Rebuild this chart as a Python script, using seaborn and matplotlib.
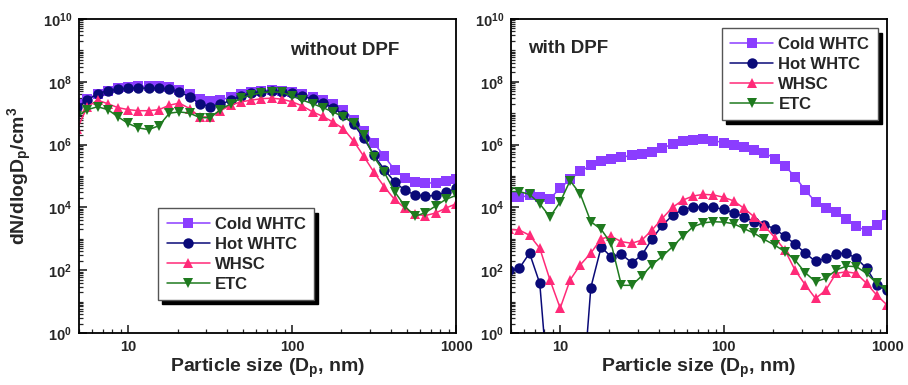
import numpy as np
import pandas as pd
import matplotlib
matplotlib.use("Agg")
import matplotlib.pyplot as plt
import matplotlib.ticker as mticker
import seaborn as sns

# ---------------- data ----------------
particle_size = [4.87, 5.62, 6.49, 7.50, 8.66, 10.0, 11.5, 13.3, 15.4, 17.8, 20.5,
                 23.7, 27.4, 31.6, 36.5, 42.2, 48.7, 56.2, 64.9, 75.0, 86.6, 100.0,
                 115.5, 133.4, 154.0, 177.8, 205.4, 237.1, 273.8, 316.2, 365.2, 421.7,
                 487.0, 562.3, 649.4, 749.9, 866.0, 1000.0]

# without DPF
wo_cold = [2.0e7, 2.8e7, 4.2e7, 5.2e7, 6.3e7, 6.9e7, 7.2e7, 7.2e7, 7.1e7, 6.6e7, 5.5e7,
           4.0e7, 2.8e7, 2.4e7, 2.6e7, 3.3e7, 4.0e7, 4.7e7, 5.2e7, 5.5e7, 5.2e7, 4.7e7,
           4.0e7, 3.3e7, 2.6e7, 2.0e7, 1.3e7, 6.3e6, 2.8e6, 1.1e6, 4.2e5, 1.6e5,
           8.5e4, 6.6e4, 6.0e4, 6.0e4, 6.8e4, 8.3e4]
wo_hot = [1.6e7, 2.6e7, 4.2e7, 5.2e7, 5.8e7, 6.2e7, 6.3e7, 6.3e7, 6.2e7, 5.8e7, 4.8e7,
          3.3e7, 2.0e7, 1.6e7, 1.9e7, 2.6e7, 3.5e7, 4.3e7, 4.8e7, 5.0e7, 4.8e7, 4.3e7,
          3.5e7, 2.8e7, 2.1e7, 1.5e7, 8.9e6, 4.5e6, 1.6e6, 4.5e5, 1.6e5, 6.6e4,
          3.5e4, 2.5e4, 2.3e4, 2.4e4, 3.0e4, 4.0e4]
wo_whsc = [3.2e6, 1.6e7, 2.6e7, 2.0e7, 1.5e7, 1.3e7, 1.2e7, 1.2e7, 1.3e7, 1.8e7, 2.1e7,
           1.4e7, 7.6e6, 7.6e6, 1.2e7, 1.8e7, 2.3e7, 2.6e7, 2.9e7, 3.0e7, 2.8e7, 2.3e7,
           1.7e7, 1.1e7, 7.9e6, 5.2e6, 3.2e6, 1.3e6, 4.2e5, 1.3e5, 4.5e4, 1.8e4,
           9.5e3, 6.0e3, 5.5e3, 6.6e3, 9.5e3, 1.3e4]
wo_etc = [7.9e6, 1.3e7, 1.6e7, 1.3e7, 7.6e6, 4.7e6, 3.4e6, 3.0e6, 4.0e6, 1.0e7, 1.1e7,
          1.0e7, 7.2e6, 7.2e6, 1.3e7, 2.0e7, 3.0e7, 3.8e7, 4.5e7, 4.8e7, 4.6e7, 3.5e7,
          2.6e7, 2.0e7, 1.5e7, 1.1e7, 7.6e6, 4.8e6, 2.0e6, 4.0e5, 1.3e5, 3.2e4,
          1.1e4, 5.2e3, 6.8e3, 1.1e4, 1.8e4, 2.4e4]

# with DPF
w_cold = [2.2e4, 2.1e4, 2.4e4, 2.1e4, 1.9e4, 4.1e4, 7.8e4, 1.4e5, 2.2e5, 3.1e5, 3.6e5,
          4.0e5, 4.5e5, 5.2e5, 6.0e5, 7.6e5, 1.05e6, 1.3e6, 1.45e6, 1.5e6, 1.35e6, 1.15e6,
          9.8e5, 8.5e5, 6.8e5, 5.5e5, 3.6e5, 2.1e5, 9.5e4, 3.5e4, 1.5e4, 9.3e3,
          7.2e3, 4.2e3, 2.5e3, 1.8e3, 2.75e3, 5.8e3]
w_hot = [100, 115, 350, 38, 0.004, 1e-4, 1e-4, 1.3e-3, 28, 540, 270,
         320, 175, 300, 1.0e3, 2.7e3, 5.6e3, 8.5e3, 1.0e4, 1.05e4, 1.0e4, 8.7e3,
         6.8e3, 5.0e3, 3.5e3, 2.8e3, 2.1e3, 1.2e3, 680, 350, 190, 240,
         330, 350, 240, 115, 34, 23]
w_whsc = [2.0e3, 1.9e3, 1.3e3, 500, 49, 6.2, 49, 150, 350, 1.0e3, 1.2e3,
          810, 720, 910, 1.9e3, 4.5e3, 1.0e4, 1.7e4, 2.3e4, 2.6e4, 2.5e4, 2.1e4,
          1.6e4, 9.3e3, 5.0e3, 2.6e3, 1.1e3, 440, 100, 34, 12.6, 23,
          79, 89, 79, 38, 16, 7.8]
w_etc = [3.2e4, 3.2e4, 2.6e4, 1.3e4, 5.0e3, 1.5e4, 7.1e4, 2.6e4, 3.5e3, 2.0e3, 710,
         33, 33, 66, 150, 280, 560, 1.2e3, 2.4e3, 3.2e3, 3.5e3, 3.4e3,
         3.0e3, 2.1e3, 1.5e3, 950, 630, 390, 210, 83, 43, 55,
         100, 135, 130, 79, 38, 23]

cycles = ["Cold WHTC", "Hot WHTC", "WHSC", "ETC"]
panel_titles = ["without DPF", "with DPF"]
y_tick_values = [1e0, 1e2, 1e4, 1e6, 1e8, 1e10]
y_tick_labels = ["$10^{0}$", "$10^{2}$", "$10^{4}$", "$10^{6}$", "$10^{8}$", "$10^{10}$"]
x_tick_values = [10, 100, 1000]
x_tick_labels = ["10", "100", "1000"]

# ---------------- style ----------------
sns.set_theme(style="ticks")
plt.rcParams["font.family"] = ["Liberation Sans", "DejaVu Sans"]
plt.rcParams["font.weight"] = "bold"
plt.rcParams["mathtext.fontset"] = "custom"
plt.rcParams["mathtext.rm"] = "Liberation Sans:bold"
plt.rcParams["mathtext.it"] = "Liberation Sans:bold:italic"
plt.rcParams["mathtext.bf"] = "Liberation Sans:bold"
plt.rcParams["mathtext.default"] = "rm"

palette = {"Cold WHTC": "#8B3DFF", "Hot WHTC": "#0A0A78",
           "WHSC": "#FF2A78", "ETC": "#1F7A1F"}
markers = {"Cold WHTC": "s", "Hot WHTC": "o", "WHSC": "^", "ETC": "v"}


def make_df(series):
    frames = []
    for name, vals in zip(cycles, series):
        frames.append(pd.DataFrame({"size": particle_size, "conc": vals, "cycle": name}))
    return pd.concat(frames, ignore_index=True)


df_wo = make_df([wo_cold, wo_hot, wo_whsc, wo_etc])
df_w = make_df([w_cold, w_hot, w_whsc, w_etc])

fig = plt.figure(figsize=(9.08, 3.85), dpi=100)
ax1 = fig.add_axes([79 / 908, 52 / 385, 377 / 908, 314 / 385])
ax2 = fig.add_axes([511 / 908, 52 / 385, 376 / 908, 314 / 385])

for ax, df, title in zip([ax1, ax2], [df_wo, df_w], panel_titles):
    sns.lineplot(data=df, x="size", y="conc", hue="cycle", style="cycle",
                 hue_order=cycles, style_order=cycles, palette=palette,
                 markers=markers, dashes=False, ax=ax, sort=False,
                 linewidth=1.1, markersize=7.5, markeredgewidth=0, legend=True)
    ax.set_xscale("log")
    ax.set_yscale("log")
    ax.set_xlim(5, 1000)
    ax.set_ylim(1, 1e10)
    ax.yaxis.set_major_locator(mticker.FixedLocator(y_tick_values))
    ax.yaxis.set_major_formatter(mticker.FixedFormatter(y_tick_labels))
    ax.yaxis.set_minor_locator(mticker.LogLocator(base=10, subs=np.arange(1, 10), numticks=100))
    ax.yaxis.set_minor_formatter(mticker.NullFormatter())
    ax.xaxis.set_major_locator(mticker.FixedLocator(x_tick_values))
    ax.xaxis.set_major_formatter(mticker.FixedFormatter(x_tick_labels))
    ax.xaxis.set_minor_locator(mticker.LogLocator(base=10, subs=np.arange(2, 10), numticks=100))
    ax.xaxis.set_minor_formatter(mticker.NullFormatter())
    ax.tick_params(which="major", direction="in", length=6, width=1.2, labelsize=10.5, pad=5)
    ax.tick_params(which="minor", direction="in", length=3, width=0.9)
    for sp in ax.spines.values():
        sp.set_linewidth(1.3)
        sp.set_color("black")
    ax.set_xlabel("Particle size (D$_{\\mathregular{p}}$, nm)", fontsize=14, fontweight="bold", labelpad=2)
    ax.set_ylabel("")
    for lab in ax.get_xticklabels() + ax.get_yticklabels():
        lab.set_fontweight("bold")

ax1.set_ylabel("dN/dlogD$_{\\mathregular{p}}$/cm$^{3}$", fontsize=14, fontweight="bold", labelpad=6)

ax1.text(0.56, 0.9, panel_titles[0], transform=ax1.transAxes, fontsize=13.5,
         fontweight="bold", va="center", ha="left")
ax2.text(0.045, 0.905, panel_titles[1], transform=ax2.transAxes, fontsize=13.5,
         fontweight="bold", va="center", ha="left")

shadow = {"ox": 3, "oy": -3, "color": "black", "alpha": 1}
leg_kw = dict(frameon=True, fancybox=False, shadow=shadow, fontsize=12,
              handlelength=2.6, labelspacing=0.3, borderpad=0.5, handletextpad=0.3,
              borderaxespad=0, edgecolor="#555555", framealpha=1)
h1, l1 = ax1.get_legend_handles_labels()
ax1.legend(h1, l1, loc="lower left", bbox_to_anchor=(0.21, 0.105), **leg_kw)
h2, l2 = ax2.get_legend_handles_labels()
ax2.legend(h2, l2, loc="upper right", bbox_to_anchor=(0.975, 0.97), **leg_kw)
for ax in (ax1, ax2):
    for t in ax.get_legend().get_texts():
        t.set_fontweight("bold")

fig.savefig("out.png", dpi=100)
